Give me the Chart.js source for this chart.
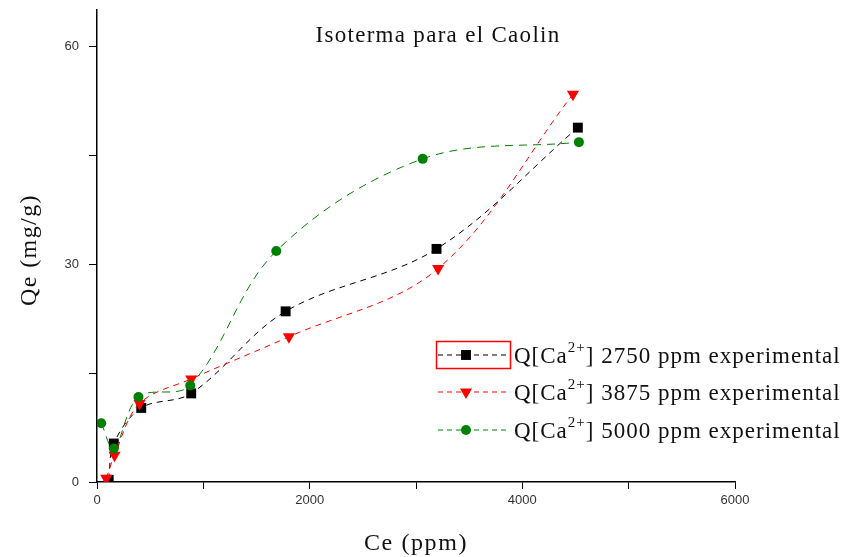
<!DOCTYPE html>
<html>
<head>
<meta charset="utf-8">
<script src="https://cdn.jsdelivr.net/npm/chart.js@4.4.1/dist/chart.umd.min.js"></script>
<style>
  html, body { margin: 0; padding: 0; background: #fff; }
  #wrap { width: 844px; height: 557px; }
</style>
</head>
<body>
<div id="wrap"><canvas id="grafico" width="844" height="557"></canvas></div>
<script>
// datos
const ce2750 = [110, 158, 416, 886, 1774, 3193, 4522];
const qe2750 = [0.3, 5.3, 10.2, 12.2, 23.5, 32.1, 48.8];
const ce3875 = [87, 165, 400, 886, 1805, 3208, 4476];
const qe3875 = [0.5, 3.7, 10.8, 14.2, 20.0, 29.4, 53.4];
const ce5000 = [40, 158, 390, 877, 1686, 3063, 4532];
const qe5000 = [8.1, 4.6, 11.7, 13.3, 31.8, 44.5, 46.8];

const xTicks = [0, 2000, 4000, 6000];
const yTicks = [0, 30, 60];
const series = ['2750', '3875', '5000'];

const titulo = 'Isoterma para el Caolin';
const tituloX = 'Ce (ppm)';
const tituloY = 'Qe (mg/g)';

function puntos(xs, ys) {
    return xs.map((x, i) => ({ x: x, y: ys[i] }));
}

const colores = ['#000000', '#ff0000', '#008000'];
const estilos = ['rect', 'triangle', 'circle'];
const radios = [7, 7, 5];
const rotaciones = [0, 180, 0];
const guiones = [[6, 5], [6, 5], [8, 6]];

// textos y leyenda
const textos = {
    id: 'textos',
    afterDraw(chart) {
        const ctx = chart.ctx;
        const area = chart.chartArea;
        ctx.save();
        ctx.fillStyle = '#111';

        // titulo
        ctx.font = '23px "Liberation Serif"';
        ctx.letterSpacing = '1.3px';
        ctx.textAlign = 'center';
        ctx.textBaseline = 'alphabetic';
        ctx.fillText(titulo, 438, 42);

        // eje x
        ctx.font = '24px "Liberation Serif"';
        ctx.letterSpacing = '1.6px';
        ctx.fillText(tituloX, (area.left + area.right) / 2, 550);

        // eje y
        ctx.translate(36, 250);
        ctx.rotate(-Math.PI / 2);
        ctx.letterSpacing = '1.4px';
        ctx.fillText(tituloY, 0, 0);
        ctx.restore();

        // leyenda
        const filas = [355, 392, 430];
        series.forEach((s, i) => {
            const y = filas[i];
            ctx.save();
            ctx.strokeStyle = colores[i];
            ctx.lineWidth = 1;
            ctx.setLineDash([5, 4]);
            ctx.beginPath();
            ctx.moveTo(438, y);
            ctx.lineTo(510, y);
            ctx.stroke();
            ctx.setLineDash([]);
            ctx.fillStyle = colores[i];
            Chart.helpers.drawPoint(ctx, {
                pointStyle: estilos[i],
                rotation: rotaciones[i],
                radius: radios[i],
                borderWidth: 0
            }, 466, y);

            // texto
            ctx.fillStyle = '#111';
            ctx.textAlign = 'left';
            ctx.textBaseline = 'alphabetic';
            ctx.letterSpacing = '1px';
            let x = 514;
            const base = y + 8;
            ctx.font = '23px "Liberation Serif"';
            ctx.fillText('Q[Ca', x, base);
            x += ctx.measureText('Q[Ca').width;
            ctx.font = '15px "Liberation Serif"';
            ctx.fillText('2+', x, base - 11);
            x += ctx.measureText('2+').width;
            ctx.font = '23px "Liberation Serif"';
            ctx.fillText('] ' + s + ' ppm experimental', x, base);
            ctx.restore();
        });

        // recuadro rojo en la primera entrada
        ctx.save();
        ctx.strokeStyle = '#ff0000';
        ctx.lineWidth = 1.5;
        ctx.strokeRect(436.5, 341.5, 74, 27);
        ctx.restore();
    }
};

const conjuntos = [
    { data: puntos(ce2750, qe2750), order: 2 },
    { data: puntos(ce3875, qe3875), order: 1 },
    { data: puntos(ce5000, qe5000), order: 0 }
].map((d, i) => Object.assign(d, {
    label: 'Q[Ca2+] ' + series[i] + ' ppm experimental',
    showLine: true,
    borderColor: colores[i],
    backgroundColor: colores[i],
    borderWidth: 1,
    borderDash: guiones[i],
    tension: 0.35,
    pointStyle: estilos[i],
    pointRadius: radios[i],
    pointRotation: rotaciones[i],
    pointBorderWidth: 0,
    pointHoverRadius: radios[i]
}));

const ctx = document.getElementById('grafico').getContext('2d');
const grafico = new Chart(ctx, {
    type: 'scatter',
    data: { datasets: conjuntos },
    options: {
        responsive: false,
        animation: false,
        layout: { padding: { left: 0, right: 109, top: 10, bottom: 0 } },
        plugins: {
            legend: { display: false },
            tooltip: { enabled: false }
        },
        scales: {
            x: {
                type: 'linear',
                min: 0,
                max: 6000,
                afterFit: (s) => { s.height = 75; s.paddingLeft = 0; s.paddingRight = 0; },
                grid: { display: true, drawOnChartArea: false, tickLength: 7, color: '#000' },
                border: { display: true, color: '#000', width: 1.5 },
                ticks: {
                    stepSize: 1000,
                    padding: 4,
                    maxRotation: 0,
                    color: '#333',
                    font: { family: '"Liberation Sans"', size: 13 },
                    callback: (v) => xTicks.includes(v) ? String(v) : ''
                }
            },
            y: {
                type: 'linear',
                min: 0,
                max: 65,
                afterFit: (s) => { s.width = 97; s.paddingTop = 0; s.paddingBottom = 0; },
                grid: { display: true, drawOnChartArea: false, tickLength: 8, color: '#000' },
                border: { display: true, color: '#000', width: 1.5 },
                ticks: {
                    stepSize: 15,
                    includeBounds: false,
                    padding: 10,
                    color: '#333',
                    font: { family: '"Liberation Sans"', size: 13 },
                    callback: (v) => yTicks.includes(v) ? String(v) : ''
                }
            }
        }
    },
    plugins: [textos]
});
</script>
</body>
</html>
